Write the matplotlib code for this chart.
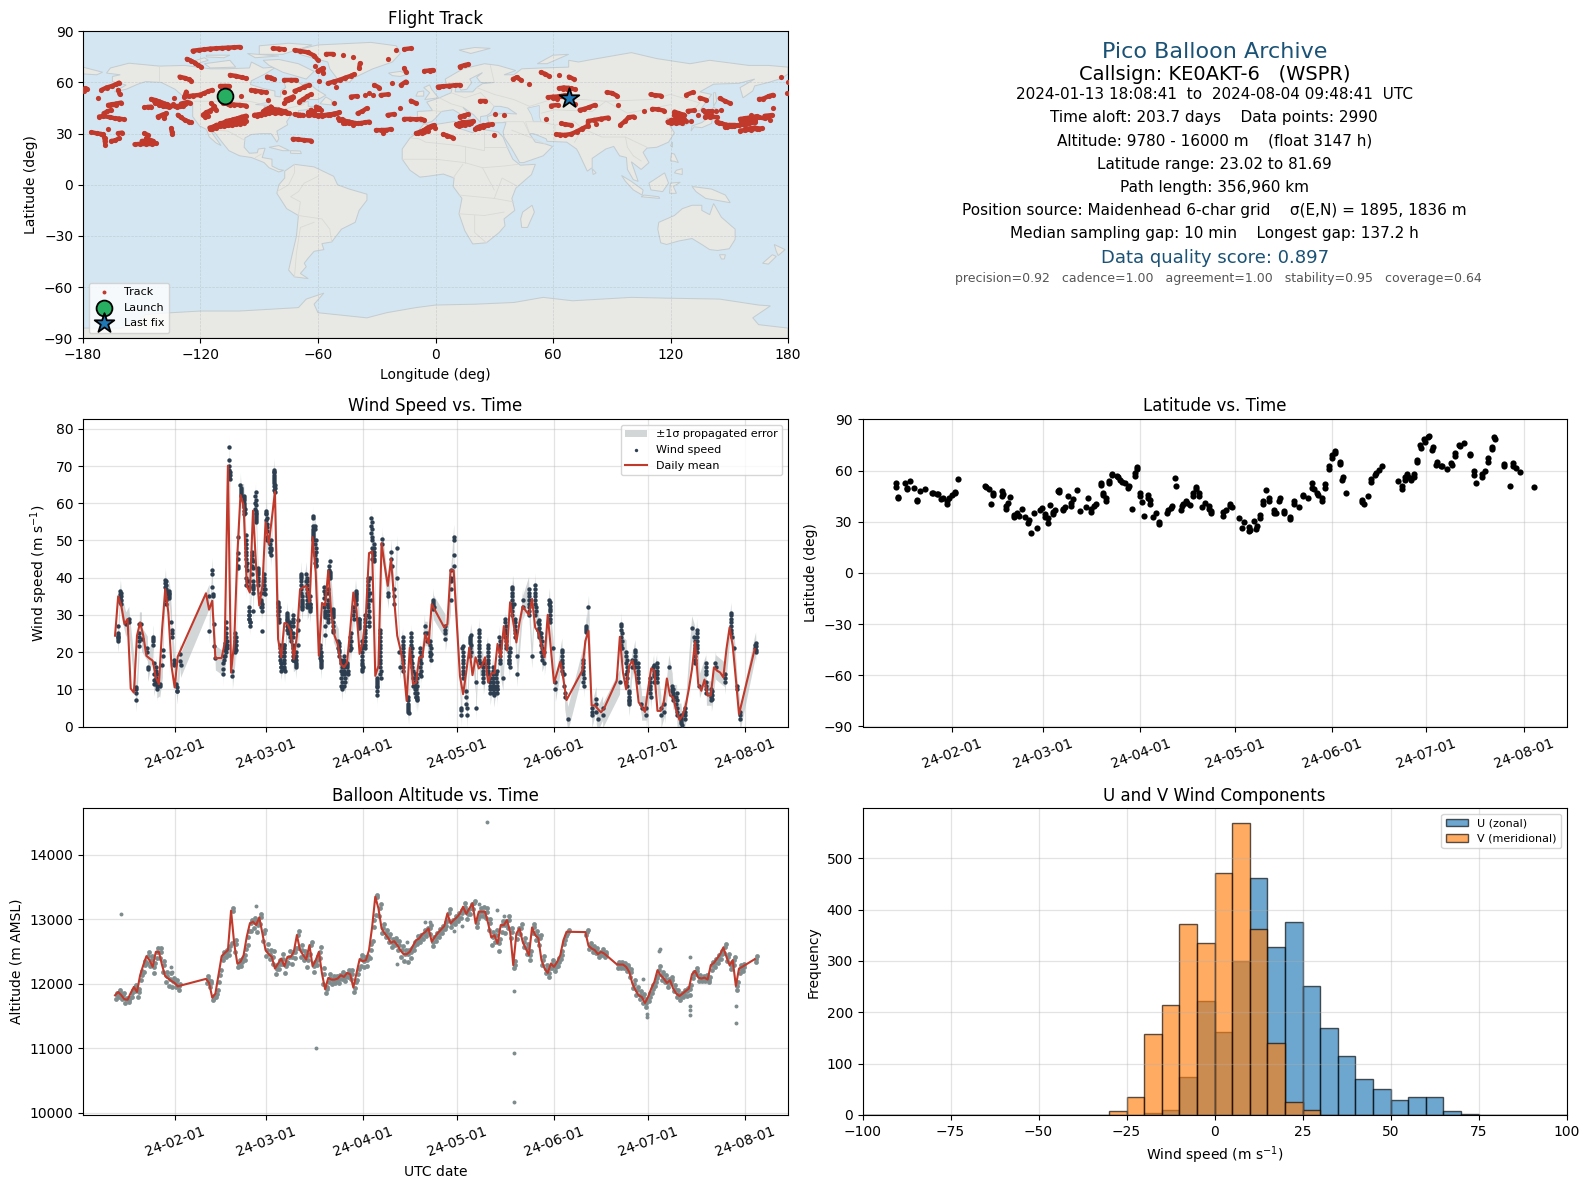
import numpy as np
import matplotlib
matplotlib.use("Agg")
import matplotlib.pyplot as plt
import matplotlib.dates as mdates

# track positions (lon, lat)
track_points = [
    (-124,78.6),(-121,79),(-118,79.4),(-115,79.8),(-112,80),(-109,80.2),(-106,80.4),(-103,80.6),(-100,80.8),
    (-127,73.8),(-125,72.8),(-123,71.6),(-121.4,70.2),(-119.7,69.2),(-130.7,63.4),(-128,62.6),(-126,61.8),(-124.8,61.1),
    (-105,64.4),(-102,63.8),(-99,63),(-96.7,62.4),(-179,56.6),(-178,56.2),(-179.5,55.2),(-170.6,55.6),(-168,57),(-165,58),(-163,59),(-161.6,59.9),
    (-162,55.6),(-161.3,53),(-172.4,50.7),(-167.2,46.8),(-165,47.2),(-163,47.6),(-160.5,48.2),(-166,46.5),(-163,46.5),
    (-169.5,41.9),(-167.5,43),(-165.6,43.9),(-171.8,40),(-169.8,40.3),(-166,39.6),(-163.9,39),(-161.5,38.8),(-159.3,38.4),
    (-175.8,30.8),(-173,30.2),(-171,29.8),(-169.8,29.6),(-169,27.3),(-168.8,25.5),(-168.6,23.4),(-167.3,32.5),(-162.2,30.2),(-160,30.6),
    (-165.6,25.7),(-163.5,26),(-161.6,27.3),(-148.6,30.2),(-146.9,29.2),(-153.7,23.7),(-151,24),(-148,24),(-145,24),(-142.6,24.3),
    (-150,25.7),(-147,25.8),(-144.3,25.7),(-147.7,27.2),(-148.6,45.4),(-147,45.6),(-145.2,45.8),
    (-145.2,50.3),(-143,49.6),(-140.9,48.8),(-138,47.5),(-135.8,46.4),(-133,46.4),(-130.7,46.4),(-128,47.2),(-125.6,48.2),(-138,46.5),(-134,47.4),(-130,47.6),(-127,48.4),
    (-141.8,40),(-139.5,41),(-137.5,41.9),(-138.7,39),(-135,33.1),(-134.6,31.2),(-134.4,29.6),
    (-131.6,41),(-130,39.5),(-128,38),(-126,37),(-124.8,36.6),(-133.3,50.7),(-127.3,54.6),(-128.2,51.7),(-126,52),(-123.9,52.3),
    (-120.5,52.7),(-118,53.8),(-116,54.8),(-114,55.6),(-110,58.1),(-107.5,58.1),(-105.2,58.1),
    (-114.6,47.8),(-113,46),(-112,43.9),(-118.8,41),(-117,42.5),(-115,43.5),(-112.9,45.2),(-117.5,39.8),(-116,40.5),
    (-108.6,47.8),(-106,47.4),(-103,47),(-100,46.8),(-96.7,46.4),(-99.3,52.3),(-105,46.6),
    (-115.4,33.5),(-113,34.2),(-111,35),(-109,35.6),(-107,36.8),(-105,37.6),(-103,38.4),(-101,39),(-99,39.8),(-96.7,40.5),
    (-112,35.1),(-109,35.2),(-106,35.8),(-103,36.2),(-100,36.8),(-96.7,37.4),(-106.9,37.4),(-104,38),(-101,38.6),(-98.4,39),
    (-94.2,55.6),(-92,55.2),(-89,54.6),(-86.5,54.2),(-85.3,49.7),(-77.5,54.2),(-86,63.4),(-84,62.8),(-82.3,61.8),
    (-77.2,61.5),(-74,61.5),(-71.2,61.5),(-72,55),(-69.5,56),(-67,57.4),(-64.4,58.5),(-77.2,47.8),(-75.5,49.5),(-74,50.5),(-72.6,51.7),(-76.5,50),
    (-69.5,48.8),(-67.5,50.2),(-65.5,51.8),(-63.6,53),(-92.5,41),(-90.5,41.2),(-88.2,41.9),(-86,43.5),(-84,45.8),(-83,44.5),(-81.5,44),(-79.7,43.9),(-77,43),(-74.6,41.9),
    (-88,43),(-85,42.8),(-82,42),(-79,42),(-72,41.4),(-69,41),(-67.8,41),(-61,45.8),(-59.5,45),(-58.5,43.9),(-63.6,43.9),(-64.4,41),(-61,40.8),(-58,40.6),(-55,41),(-52,41.5),(-49.1,42.5),
    (-49.1,38),(-47,37.6),(-44,37),(-41,36),(-38,36.2),(-36,36.6),(-33.8,37),(-47,36.5),(-44,36),(-51.7,47.8),(-39.8,41.9),(-37.5,43),(-35.2,44.8),
    (-30.4,32.1),(-28,32),(-25.5,32),(-22.8,32.7),(-27,30.6),(-24.5,40.9),(-21,41.5),(-18,44.8),(-12.6,49.3),(-10,47.8),
    (-16,38.6),(-13,38.6),(-10,38.4),(-7.5,38.6),(-5.8,38),(-10,30.2),(-8,31),(-6,32),(-4,33.5),(-2,34.5),(-0.7,35),(-7,30.5),(-4,31.8),
    (-72.9,26.9),(-70,26.6),(-67,26.2),(-63.6,25.9),(-83.1,80),(-80,79.8),(-77.2,79.4),(-72,79),(-69,78.4),(-65.3,77.7),
    (-61.9,75.7),(-60.2,73.2),(-61.5,69.9),(-60.2,66.7),(-57.6,68.3),(-57.3,65.4),(-56,76.5),(-52.5,76.5),(-47.4,76.1),(-42.3,75),
    (-38.6,71.2),(-39,68.3),(-24.5,73.8),(-16,68.3),(-15.1,66.3),(-20.2,79),(-16,79.5),(-12.6,80),(-5.8,66.7),(-3,67),(-1.5,67.3),
    (-59.3,61),(-55,59.5),(-52,60.5),(-49,61.5),(-46,62.8),(-43,64),(-41.5,64.8),(-50.8,57.5),(-31.3,58.5),(-28.7,57),(-22.3,59.5),(-17.7,58.5),(-15.1,60.5),
    (-43.2,51.7),(-40,52),(-36,52.6),(-32,52.8),(-28,52.6),(-24.5,53),(-34,54),(1.9,57.5),
    (12.4,69.3),(15,70.2),(16.7,70.6),(1.2,57.5),(4,57.8),(7,58),(10,58.4),(12.4,58.5),(22.8,49.1),(25.4,49.1),
    (12.4,40),(14.5,40.6),(16.4,41.3),(30.5,41.5),(34.8,40.9),(10.7,35.5),(13,36),(15,36.5),(17,36.8),(19.3,37.4),(12,34.5),(15,35),
    (20.2,32.7),(22,33.2),(24,34),(26,35),(28.8,35.5),(24,35.2),(-0.5,33.1),(3.8,29.6),(6,28.8),(9,27.6),(29.7,29.2),
    (39.5,62),(41.5,63),(43.5,61.5),(47.8,58.9),(53.8,66),(56,65),(57.8,63.8),(63,64.4),(68.1,63.4),(70.5,62),
    (63,56.6),(65.5,57),(68,56.8),(71,56),(57.3,51.3),(60,51.6),(63,51.8),(66.7,51.3),(59,46.4),(62.4,46.8),(71,47.2),
    (73.6,43.9),(76,44.5),(78.5,45.5),(81.4,46.8),(87.4,54.2),(90,53.8),(92.6,52.3),(93.1,46.8),(109.8,53),(112,52.5),(115,52.3),
    (128,52.7),(131.4,54.2),(134.9,51),(138.3,49.7),(145.2,50.7),(148,49),(150.4,47.8),(165,50.3),(167,50.3),(170.2,52),(172.3,52.7),
    (176.6,63),(179.9,60),(179.7,53.6),(56.4,38.4),(64.2,36),(66,35.5),(69,35),(61.6,29.6),(63.5,29.4),(65.9,29.2),
    (69.3,29.8),(72,31.2),(75,33),(78,34.7),(78,37.4),(81,38),(84.5,38.7),(88.3,39.4),(82,35.5),(94.3,35),(96.9,37.4),(98.6,39.6),(101.2,40),
    (106.7,43.3),(110.7,44.5),(113.5,44.2),(116.7,43.5),(118.5,37),(121,37.4),(124,37.2),(128,37.4),(122,42.9),(124,42),(127,41),(124,39.5),(126,39),
    (128.8,43.3),(132,43.6),(136.6,43.9),(130.5,37.4),(137.4,40),(140,40),(143.5,40),(137.4,42.9),(141,43.2),(146,43.9),
    (143.5,37),(146,36),(148.5,35.2),(151.2,34.7),(147.8,34.1),(151,34.4),(154,34.8),(157,35.4),(160,36),(163.3,36.6),
    (155.5,38.6),(158,39),(161,39.5),(164,40.2),(168,40.4),(171.9,40.9),(161,41),(163,38),(155.5,31.8),(158,32),(161,32.4),(164,32.8),(166.7,33.1),(171,38),(172.4,44.8),
]
# the thick patches of the track
track_points_dense = [
    (-143,47.8),(-141,47),(-139,46),(-136,45.5),(-132,45.5),(-129,46),(-144,49),(-137,47.5),
    (-114,33),(-112,33.5),(-110,34.2),(-108,34.5),(-106,34.8),(-104,35),(-102,35.5),(-100,35.8),(-98,36.4),(-110,36),(-108,36.5),(-106,37),(-104,36.8),(-102,37.3),(-100,38),(-98,38),(-110,35.4),(-112,34),(-115,32.8),
    (-91,40.6),(-89,41),(-87,41.5),(-85,42),(-83,42.5),(-81,43),(-80,42.5),(-78,42.4),(-76,42),(-87,44),(-85,45),(-84,44),(-82,43.8),(-80,44),(-70,41.2),(-65,41.2),(-62,41),(-60,40.5),(-57,40.8),(-54,41.2),(-50.5,42),(-65,42.4),(-62,43),(-60,44.2),
    (-47.5,38.4),(-45.5,37),(-42.5,36.4),(-39.5,36),(-46,36.2),(-42,35.3),(-50,39),
    (120,38),(122,38),(125,38),(127,38.5),(122,41),(125,41),(123,40),(126,40.5),(120,36.5),(123,36.5),(126,36.5),(134,41),(139,41),(141,40.5),(139,43.5),(143,43.5),
    (145,36.5),(149,34),(152.5,34.2),(155,35),(158,35.2),(161,36.8),(156,37.2),(159,38),(162,38.5),(165,39.5),(168,39),(170,40),(158,33),(160,33),(163,33.5),(165,33),(150,35),(153,35),
    (12,36),(14,36.8),(16,36),(18,36.4),(11,34.8),(13,35),(17,35.8),(21,33.5),(23,34.5),(25,34.5),(27,35.3),(-9,30.6),(-5,32.4),(-3,33.8),(-6,30.8),
    (60,51),(62,50.5),(64,52),(66,52.5),(65,56),(67,56),(69,56.5),
]

launch_lon, launch_lat = -107.4, 52.3
last_lon, last_lat = 68.0, 51.1

# coastlines (lon, lat), rough outlines
land_shapes = [
    [(-168,65.5),(-166,68.5),(-156.5,71.3),(-141,69.6),(-128,70),(-115,68),(-108,68),(-95,68.5),(-94,72),(-88,68.5),(-81.5,69),(-87,65),(-94,61),(-94.5,58.8),(-88,56.5),(-82,55),(-82,52),(-79,51.5),(-79,55),(-76.5,57),(-78,62.5),(-72,61.8),(-68,58.5),(-65,60),(-61,56),(-56,52.5),(-60,50),(-66,50),(-70,47),(-65,49),(-65,46),(-61,46),(-66,44),(-70,43.5),(-70,41.5),(-74,40.5),(-76,37),(-75.5,35.2),(-81,31.5),(-80,27),(-81,25),(-82.7,28),(-84,30),(-89,30),(-94,29.5),(-97.3,27.5),(-97.7,22),(-95,18.5),(-91,18.8),(-90.5,21),(-87,21.5),(-88.5,16),(-83.5,15),(-83.5,11),(-80,9),(-77.5,8.5),(-80,7.5),(-85,10),(-87.5,13),(-94,16),(-100,17),(-105.5,20),(-109,25),(-112.7,30.5),(-114.8,31.5),(-112,27),(-109.5,23),(-112,24.5),(-115.5,28),(-117,32.5),(-120.5,34.5),(-124,40),(-124,48.3),(-128,51),(-133,56),(-140,60),(-148,60.5),(-152,59),(-158,56),(-164,54.5),(-158,58.5),(-165,60.5),(-165,63.5),(-161,64.5)],
    [(-73,78.5),(-60,82),(-33,83.5),(-20,81.5),(-18,77),(-22,72),(-32,68),(-42,62.5),(-44,60),(-50,62),(-54,68),(-55,72),(-68,76)],
    [(-80,73.5),(-70,71),(-62,66.5),(-66,62),(-72,64),(-78,66),(-85,70),(-88,73)],
    [(-90,76.5),(-78,76.5),(-63,82),(-75,83),(-90,81.5)],
    [(-118,71),(-105,73),(-102,69),(-115,68.5)],
    [(-125,72),(-118,74.5),(-116,73),(-122,71)],
    [(-96,77),(-80,75.5),(-92,74.5)],
    [(-117,76),(-105,76),(-108,74.5),(-117,75)],
    [(-59,47.5),(-53,46.8),(-53,49.5),(-56,51.5)],
    [(-85,22),(-80,23),(-74.5,20),(-78,20)],
    [(-74,18.5),(-74,20),(-69,19.8),(-68.5,18.3)],
    [(-24,65.5),(-18,66.5),(-14,65),(-18,63.5),(-22,64)],
    [(-77,8),(-72,12),(-62,10.5),(-52,5),(-50,0),(-44,-2.5),(-35,-5.5),(-35,-9),(-39,-15),(-41,-22),(-48,-26),(-53,-33.5),(-58,-34.5),(-57,-38),(-62,-39),(-65,-43),(-67,-46),(-66,-48),(-69,-52),(-65,-55),(-72,-54),(-75,-50),(-73,-40),(-71,-30),(-70,-18),(-76,-14),(-81,-5),(-80,0),(-77,4)],
    [(-17,15),(-17,21),(-13,27.5),(-9.5,30.5),(-6,35.7),(-2,35),(10,37.2),(11,33.5),(19,30.5),(22,32.8),(32,31),(34.5,28),(37,21),(39.5,15),(43.3,11.5),(51,12),(49,6),(41,-2),(39,-8),(40.5,-15),(35,-20),(35.5,-24),(32.5,-28),(26,-34),(19,-34.7),(15,-27),(12,-17),(13.5,-8),(9,-1),(9.5,4),(4,6.3),(-4,5),(-8,4.5),(-13,8.5)],
    [(49.3,-12),(50.5,-16),(47,-25),(44,-25),(43.5,-20),(44.5,-16)],
    [(-9,37),(-9.3,43),(-1.5,43.5),(-4.5,48.5),(2,51),(8,54),(8.5,57),(10.5,57.5),(10,54.5),(19,54.5),(21,57),(24,59.3),(30,60),(23,60),(21,63),(24,65.8),(17.5,62),(18.5,60),(16,56),(13,55.5),(11,59),(5.5,59),(5,62),(14,68),(25,71),(32,70),(41,67),(35,64.5),(40,64.5),(44,68),(54,68.5),(68,69),(68,73),(73,72),(80,73.5),(100,77.5),(113,74),(130,71),(140,73),(160,70),(170,70),(180,69),(180,65),(177,62.5),(170,60),(163,58),(162,55),(157,51),(155.5,57),(163,62),(155,59.5),(142,59),(135,54.5),(141,53),(135,43.5),(130,42.5),(127.5,39.5),(129.3,36),(126.5,34.5),(125,39.5),(121,39),(118,39),(122,37),(119.5,35),(122,30.5),(119,25),(113,22),(108,21.5),(106,19),(109,13),(105,9),(100,13.5),(103.5,2),(101,3),(98,9),(97.5,16),(94,17),(91,22.5),(87,21),(80,15.5),(80,10),(77.5,8),(73,19),(72,21),(67,25),(57,25.5),(56.5,27),(50,30),(48,30),(51,25),(56,24),(59.8,22.5),(55,17),(45,13),(43,13),(39,21),(35,28),(34.5,31),(36,36.5),(30,36.3),(27,37),(26.5,40),(29,41),(35,42),(41.5,41.5),(37,45),(33,46),(30,46),(28,42),(26,40.5),(23,40),(23,36.5),(19.5,41),(14,45.5),(18,40),(16,38),(12,42),(9,44),(3,43),(0,39),(-2,37),(-5.5,36)],
    [(-5.5,50),(1.5,51),(-2,56),(-3,58.6),(-6,57),(-3,54)],
    [(-10,52),(-6,52),(-6,55),(-9,54.5)],
    [(12,79),(20,80.5),(28,80),(18,77)],
    [(52,71),(57,71),(68,76.5),(60,76)],
    [(142,46),(143.5,49),(143,54),(142,54)],
    [(130.5,31.5),(132,34),(136,33.5),(141,36),(141.5,41),(140,40),(136,36.5),(131,34.5)],
    [(140,42),(145.5,43),(142,45.5)],
    [(120,23),(121,25),(121,22)],
    [(120,14),(120.5,18.5),(122,18),(124,13),(122,13.8)],
    [(122,7),(126,6),(126,9.5),(123,8.5)],
    [(95,5.5),(100,2),(106,-3),(105.5,-6),(101,-3),(97,2)],
    [(105,-7),(114.5,-8),(114,-7),(106.5,-6)],
    [(109,1),(117,7),(119,1),(116,-4),(110,-3)],
    [(119.5,-5),(120,1),(125,1.5),(121.5,-1),(123,-5)],
    [(131,-1),(141,-2.5),(148,-6),(150.5,-10.5),(143,-9),(138,-8),(133,-4)],
    [(80,9.5),(82,7),(80.5,6)],
    [(114,-22),(122,-18),(126,-14),(131,-12),(136,-12),(136,-15),(140,-17.5),(142,-11),(146,-19),(153,-26),(153,-32),(150,-37.5),(144,-38.5),(140,-38),(136,-35),(131,-31.5),(124,-33),(118,-35),(115,-34),(113.5,-26)],
    [(145,-41),(148,-41),(147.5,-43.5),(146,-43.5)],
    [(173,-35),(178.5,-38),(175,-41.5),(174,-39)],
    [(172,-41),(174,-42),(170,-46.5),(167,-46)],
    [(-180,69),(-170,66),(-173,64.5),(-180,65)],
    [(-180,-84),(-180,-90),(180,-90),(180,-84),(165,-82),(162,-78),(171,-71),(165,-70.5),(145,-67),(120,-66.5),(100,-66),(85,-67),(70,-68),(55,-66),(40,-69),(20,-70),(0,-70.5),(-10,-72),(-25,-75),(-35,-78),(-60,-75),(-62,-70),(-57,-63.5),(-66,-67),(-70,-72),(-85,-73),(-100,-74),(-120,-74),(-135,-75),(-148,-76),(-152,-80),(-160,-84)],
]
lake_shapes = [
    [(47,45),(53,46.5),(53,40),(54,37),(50,37),(49,41)],
    [(-92,47),(-85,48.5),(-85,46.5)],
    [(-87.5,46),(-80,45.5),(-82,43),(-87.5,42)],
]
border_lines = [
    [(-141,69.6),(-141,60)],[(-123,49),(-95,49),(-84,46),(-82,42.5),(-75,45),(-67,47)],
    [(-117,32.5),(-106,31.5),(-97.3,26)],[(-92,16),(-89,18)],
    [(-70,-18),(-58,-20),(-54,-26),(-53,-33.5)],[(-70,-18),(-69,-10),(-74,-7),(-70,-4),(-67,1),(-60,5)],[(-72,-54),(-71,-40),(-69,-25),(-62,-22)],[(-81,-4),(-75,0),(-72,7),(-72,12)],
    [(-13,27.5),(-8.5,27),(-5,25),(12,23),(25,20),(25,31)],[(25,22),(37,22)],[(-17,15),(0,15),(15,13),(24,10),(35,11),(42,12)],[(15,13),(15,23)],[(9,4),(14,12)],[(12,-6),(30,-8),(40,-10)],[(30,-8),(34,4),(42,-1)],[(12,-17),(25,-18),(35,-16)],[(20,-18),(20,-28),(26,-34)],[(24,10),(30,-3)],
    [(-1.5,43.5),(3,43)],[(2,51),(8,47.5),(14,45.5)],[(8,54),(15,51),(23,54)],[(23,54),(30,46)],[(21,57),(30,53),(40,50),(48,46)],[(28,70),(30,60)],
    [(48,30),(46,37),(54,37),(61,35),(61,26)],[(61,35),(71,37),(75,33),(71,25)],[(54,42),(61,44),(80,43),(87,49),(98,42),(120,47)],[(48,46),(62,51),(87,49)],[(87,49),(110,50),(120,53),(135,48),(131,43)],[(75,33),(85,28),(97,28),(98,22),(101,17)],[(97,28),(108,22)],[(35,37),(45,37),(48,30)],[(39,32),(48,28),(56,24)],[(101,17),(105,14)],
]

# latitude vs time (day of 2024, lat)
lat_t = [13.06,13.1,13.8,13.85,16,16.7,16.75,17.7,18.9,19.9,19.95,20.8,22.5,24.7,25,26.2,26.5,27.6,28,29.4,29.5,30.1,31,32,32.1,33,
    41.5,41.8,42.7,43.4,44.1,44.2,47,47,47.1,48.8,49.5,48.1,48.2,50.7,50.8,51.7,53.2,52.5,54.3,55.3,55.4,56.1,58,57.1,59,59.7,60.5,60.6,61.5,61.5,62.2,63.1,63.2,63.7,64.8,65,65.2,
    66.3,66.5,67,68,68.9,69,69.6,70.8,71.7,73.6,74.3,75.3,75.4,76.2,76.9,78.3,78.4,79.1,79.2,79.9,80,80.9,81,81.8,81.9,83.5,83.7,84.5,85,86,87.1,87.2,88.2,89.2,89.3,89.9,90,
    90.8,90.9,91.4,92.1,93.3,93.4,94,94.1,95,95.9,96.9,97,99.5,99.7,100.8,101,102.1,102.3,104,104.1,104.5,105.5,105.8,106.7,107.7,107.8,108.7,108.8,109.6,109.7,110.6,111.6,112.8,112.9,113.5,113.6,
    117.2,117.3,118.2,119.4,119.6,120,122.4,123.2,124.1,125.4,125.6,126,127.2,127.9,128,129,129.2,130,130.1,131,131.9,132,133.4,133.6,134,135.1,135.3,136.7,136.8,138.5,138.7,139.9,140,141.4,142.6,142.7,144.3,145.5,145.6,146.2,147.2,147.5,148.7,148.8,149.7,149.8,
    150.9,151,151.9,152,152.8,153,154.5,154.6,155.3,155.4,156.4,161.4,161.5,162.2,163.3,164.3,164.5,165.7,165.9,166.9,167.9,173,174.2,174.3,175.2,175.3,175.9,176,177.1,177.2,178.1,178.2,178.9,179,
    180,180.2,181.2,181.5,182.5,182.9,183.9,184,185.1,185.5,186.6,187,188.5,189.8,190,191,191.2,192.4,192.8,193.9,195.8,195.9,197,197.1,197.8,199.7,199.8,200.7,201.6,201.7,202.8,202.9,203.6,203.7,206.6,206.7,208.5,209.5,209.6,210.4,211.7,216.4]
lat_v = [52.5,50.5,43.7,44.5,52.5,49,50,53.8,49.9,42.1,43,48,49.3,47,47,46.6,46.6,43.5,44,40.2,42.1,44.1,46,47,47.5,55.2,
    51.3,50.5,49,40.6,47,46,48,45.4,46.5,41.1,44.7,37.8,39,32.9,34,35.3,37.6,33.3,32.9,29.4,31,23.5,26.5,34.9,37.2,38.2,34.3,33,29.4,32.4,39.6,34.3,36,37.2,48,48.5,47.5,
    37.6,37,38.8,45,39.2,41,43.5,48.4,36.2,38.8,44.1,35.7,37.5,39.2,40.6,52.5,51.5,47,46,42.1,44,52.5,54,58.1,57.5,56.8,56,54.4,53.5,52.9,49.9,51,37.6,56.8,58.5,62.2,61,
    45,47,41.5,33.7,44.1,46,40.6,43,32.9,34.9,29,30,35.3,37,38.2,39.5,55.8,50.9,37.2,39,40.2,42.1,41,39.6,45,47,50.5,49,45.4,47,38.6,41.1,37.8,39,35.3,36.5,
    33.7,35.5,37.2,40.2,39,38.8,32.4,26.5,29.8,24.5,27,25.1,30.4,25.9,27.5,32.4,34,40.2,42,48.6,44.1,42.5,35.3,37,34.9,42.1,44,36.2,35,31.4,33,40.2,42,38.8,45,46,43.7,52.5,50,49,47,46,42.1,44,49.9,52,
    60.7,63,67.5,69,70.5,71.5,65.2,64,54.8,56.5,47,42.7,41.5,40.2,45,53.5,55,57.2,58.5,60.3,63,53.8,49,51,54.8,56,57.8,56,55.8,54.5,58.3,56.5,66.5,65,
    75.3,73,78.3,77,80,80.2,72.4,74,63.6,65,62.6,62.5,61,64.6,63.5,70.5,68.5,75.3,74.5,76.3,68.9,70,59.7,57.5,52.5,57.8,56,59.7,67.5,65,74,72.5,79.8,78.5,62.6,64,51.3,64.6,62.5,61.7,59.3,50.5]

# daily mean wind speed (day of 2024, m/s)
wind_days = list(range(12, 33)) + list(range(41, 114)) + list(range(117, 157)) + list(range(161, 169)) + list(range(172, 212)) + [216]
wind_mean = [24.4,35,32.4,27.5,28.9,10.2,9.1,24.4,28,24.4,19,18.3,17.7,13.2,11.4,26,36.9,30.7,16.3,10.5,18.8,
    35.8,31.4,33.8,18.3,18.4,18.4,22.6,70.1,14.5,22.6,
    46,62.2,59.4,37.8,36,58,43,32.5,37.8,54.9,
    49,55.8,63.1,23.5,18.6,27.8,27.5,25.7,18.1,24.4,
    36.8,37.4,37.8,33.4,50.9,41.4,19,33.2,32.5,41.9,
    29.8,24.4,22.2,16.8,15.9,17.2,26,36,31.1,19.5,
    22.6,29.8,46.6,47,13.6,16.3,49.3,43.2,37.8,45,
    34.3,24.4,20.8,16.3,6.9,21.2,11.4,11.8,18.6,18.6,
    24.8,22.2,32.9,
    26.6,27.5,42,42,
    28,13.6,8.7,14.5,21.2,13.8,18.6,15.6,16.3,18.6,
    11.8,14.3,14.3,22.2,18.6,27,20.4,33.4,28,22.6,
    28,32.3,31.1,30,34.3,26.6,25.3,21.7,18.6,30,
    20.8,11.7,14.5,17.4,12.7,7.1,
    15,23,25.7,5.6,5.7,4.7,3.8,4.9,
    12.3,24.1,14.5,10,16.3,17.7,14,6.5,5.3,
    3.9,10,15.6,15,4.2,4.2,6.5,12.9,8.3,7.8,
    4.2,1.8,2.9,5.6,10,15.4,22.8,11.4,9.6,12.6,
    8.3,8.3,15.9,15,14.5,13.2,20.8,26.6,21.7,12.7,3.3,
    20.8]
wind_sigma = 3.3

# wind speed samples, (day of 2024, speeds seen around that time)
wind_samples = [
    (12.8,[24,23,25,27]),(13.8,[36,35,34,33]),(15.4,[27.5]),(16.4,[29,28]),(18.6,[10.5,10,9,7.2]),(19.6,[21.5,23,24,25,27.5]),(20.4,[27.5,23.5]),
    (22.3,[21,20,16,15.5]),(24.2,[24,23,17,14,12.5,11.5]),(25.2,[16,14,12,10,11]),(26.2,[11.5,11]),(27.1,[16.5,19,20.5]),(28.2,[39,38,37,36,34,33]),(29.2,[36,35,34.5]),
    (30,[28,26,25,24]),(30.8,[18,17,16.5]),(31.6,[11.5,10.5,9.5,9.5]),(32.8,[19.5,17.5,16.5]),(42,[35,25.6]),(43,[42,41,37.5,35.5,35]),(43.6,[21.5,27.5]),(44,[18.5]),
    (46.5,[17,15.5,14,19,18]),(47.3,[21,20,22,23,25,28]),(48.4,[75,71.5,70,68.5,67.5,66.5]),(49.4,[15,13.5]),(50.4,[21,22,23,24,20.5]),(51.2,[46.5,45,43,42.5,51]),(52,[65,63.5,63,62.5]),
    (53.2,[61.5,61,59.5,58.5,57.5]),(53.8,[51.5,50,48,46,44,42]),(54.7,[39,37.5,32,30,29,28,27]),(55.8,[47,44.5,42.5,38,37,36,31]),(56.8,[63,61,59.5,58,57,56,55]),(57.6,[42,41,39]),
    (58.6,[36,33.5,32,31,25.7]),(59.5,[41,39,37,36]),(60.2,[58,57,55.5,53.5,51]),(61.6,[50,48,47.5,46]),(62.7,[69,68.5,67,66,65,64,63]),(64,[33.5,32,31,30]),(64.8,[21,19,17,16]),
    (65.9,[22,20,18,16,15]),(66.8,[30,29,28,27,26]),(67.7,[27,26,25,24]),(68.7,[30,28,25,20,18]),(69.6,[19,18,17,16]),(70.3,[28.5,26,22]),(71.4,[40,39,35,33,32]),(73,[41,39,38,36,33]),
    (74.1,[35,33,32,31]),(75.1,[56.5,52.5,51,50]),(75.8,[54,49,46,44,43]),(77.5,[22,20,19,18,17,16]),(78.8,[37.5,35.5,33,30,27,24.5]),(79.8,[37,33,31,29]),(80.4,[44.5,41.5,41,40]),
    (81.5,[31,30,28,26]),(83.2,[23,21,20]),(84.2,[18,16,14,12,10]),(85,[19,17,15,11]),(86,[17,16,14.5]),(87.1,[25,23,21]),(88,[32,30]),(88.7,[36.5,35.5,34]),(89.8,[29,28,27]),
    (90.8,[23,21,19,17,16]),(91.7,[30,28,25,22]),(92.7,[40,38,33,30,28]),(93.4,[40,36,34]),(93.7,[56,54,52,50,45]),(94.5,[49,47,44.5]),(95.4,[13,12,10.5,8.5]),(96.4,[26,24,22,20,18,16,14]),
    (97.2,[50.5,49]),(99.1,[35,36]),(100.1,[47,45,43]),(100.9,[37,35,33]),(101.9,[48,40]),(102.7,[20,16]),(103.8,[24,22,20,18,16]),(105.5,[8,6,5,3.7]),(106.5,[25,23,21,19]),(107,[15,13,11]),
    (108,[14,12,10,8,7]),(109.4,[21,19,17,15]),(110.7,[27,25]),(111.6,[25,23]),(112.6,[23,21,19.5]),(113.4,[34,33,31.5]),(117.2,[27,26,25,23.5]),(119,[34,37,39,42,40]),(120,[51,50,46,43]),
    (122.4,[5,4.3,3.2]),(122.9,[21.5,20,18,16,14]),(124,[9.5,8,6,5,3]),(125.3,[24,23,22,20]),(127,[12,5]),(128,[26,24,22,20,18]),(129.3,[17,15,13]),(130.9,[22,20,18,16]),(132.5,[16,14,12,11,10,9]),
    (133.8,[15,12,10]),(134.6,[24,22,20,18]),(135.7,[13]),(136.5,[29,27]),(137.6,[20,18,17]),(138.5,[37,35,33,31]),(139.4,[33,28,24]),(140.1,[19,14]),(142,[34,32]),(143.9,[37,34,32,30]),(144.9,[19]),
    (145.9,[38,36,33,30]),(147,[28,26,25,24]),(147.9,[25,22,20]),(148.9,[20,17]),(150.5,[34,33,31,29]),(151.6,[21]),(152.4,[12,10]),(154.5,[20.5,19,17,15]),(155.3,[14,11,9,8]),(156.4,[2.1]),
    (161.2,[18,15,12]),(162.2,[27,26]),(163,[32]),(164,[5,4,3]),(165.4,[7.5,6,4]),(165.9,[2]),(167.5,[5,3]),(172.9,[12]),(173.4,[27.5,26,24,22]),(175,[20,17,14,12]),(175.9,[9,7,6]),(176.9,[18,16]),
    (177.9,[20.5,19,17]),(178.7,[17,15,13]),(179.9,[6,5]),(181.4,[5,3]),(182.6,[13,11,9]),(183.7,[16,14]),(184.8,[17,15,13]),(186.1,[5,3]),(187.2,[6,4]),(188.6,[16]),(189.9,[10,9,8]),(191,[8,6,4]),
    (192.6,[2,1,0.5]),(193.6,[4,3]),(195.9,[26.5]),(196.8,[24,22,20,18]),(197.5,[26,24,21]),(198.4,[11]),(200.5,[17,15,10,9]),(202.1,[9,8,7]),(203.5,[17,16]),(206.4,[14,13,12]),(208.4,[30,29,27,25]),
    (209.5,[21]),(210.3,[11,10]),(211.2,[4,3,2]),(216.2,[22,21,20]),
]
# more samples in the dense columns
wind_samples_dense = [
    (13.6,[36.5,35.5,34.5,33.5]),(12.9,[24.5,23.5,24]),(24.1,[22,23.5]),(25,[15,13,12]),(28,[39.5,38.5,37.5,36.5,35.5,34.5]),(29.3,[36.5,35.5]),(48.3,[69,68,67]),(47.1,[19,20.5,21.5,22.5,24,26.5]),(47.6,[21,22,23]),(50.2,[20,21,22,23,24,25]),(52.1,[64,62]),(53,[62,60,59,58,57]),
    (53.7,[49,47,45,43,40,38,39]),(54.8,[31,30,29,28]),(55.7,[46,45,43,41,39,37.5]),(56.7,[62,60,58.5,57.5,56.5,55.5]),(57.5,[42.5,41.5,40,38]),(58.7,[34,33,32]),(59.6,[40,38,37,35.5]),(60.3,[57.5,56,54.5,52.5,50]),(61.5,[49,48,47]),(62.6,[68.5,67.5,66.5,65.5,64.5,63.5]),
    (64.1,[33,32,31,29,28]),(64.6,[22,21,20,19,18,17,16,15]),(65.8,[21,19,17,15.5,20,22]),(66.9,[30.5,29.5,28.5,27.5,26.5,25]),(67.8,[28,27,26,25,24,23]),(68.6,[29,27,24,22,21,19,18]),(69.5,[18.5,17.5,16.5,20]),(71.3,[41,40.5,38,37,36,34,33.5,32.5,31.5]),(73.1,[40,39,37,35,34,32]),(74,[34,33,32,31.5]),
    (75,[56,54,53,52,51.5,50.5]),(75.9,[53,50,48,47,45,44.5,43.5]),(77.4,[21,20,19.5,18.5,17.5,16.5]),(78.7,[36.5,34.5,32,31,30.5,29.5]),(79.9,[36,34,32,30,28]),(80.3,[43,42,41.5,40.5]),(81.4,[31.5,30.5,29.5,27,25.5]),(83.3,[22.5,21.5,20.5,19]),(84.1,[17,15,13,11,10.5]),(85.1,[18,16,14,13,12]),(86.1,[16.5,15,14]),(87,[24,22,20.5]),(88.1,[31,29]),(88.8,[36,35,34.5,33]),(89.7,[29,28.5,27.5,26.5]),
    (90.7,[22,20,18,16.5,15.5,15]),(91.6,[29,27,26,24,23,21]),(92.6,[39,37,36,35,34,32,31,29.5,27]),(93.8,[55,53,51,48,47]),(94.6,[48,46,45]),(95.5,[12.5,11.5,11,9.5]),(96.5,[25,23,21,19,17,15,13]),(103.7,[23,21,19,17,15]),(105.4,[7,5.5,4.5,4]),(106.4,[24,22,20,18,17,16]),(107.6,[14,13,12,11,10,9,8]),(108.3,[13,11,9,8,7.5]),(109.3,[20,18,16,14,13.5]),(112.5,[22,20,19,18]),(113.5,[33.5,32.5,32]),
    (122.8,[21,19,17,15,13]),(125.2,[23.5,22.5,21,19]),(125.5,[24.5]),(128.1,[25,23,21,19,17]),(129.4,[16,14,12]),(130.8,[21,19,17,15,14]),(131.5,[13,12,11,10,9]),(132.6,[15,13,12,11,10,9,8.5]),(133.6,[14,13,11,10,9]),(134.7,[23,21,19,17]),(136.4,[28,26,25,24,23,22,21]),(137.7,[19,18,17,16,20,21]),(138.6,[36,34,32,30,37.5]),(139.5,[29,27,26,25]),(144,[36,35,33,31]),(146,[37,35,34,32,31]),(147.1,[28.5,27.5,26.5,25.5,24.5]),(148,[24,23,21,19,18]),(150.6,[33.5,32.5,31.5,30,28]),(154.6,[20,18,16,14]),
    (161.3,[17,16,14,13,11]),(162.3,[26.5,25.5]),(173.5,[27,25,23,21]),(175.1,[19,18,16,15,13,11]),(175.8,[9.5,8,7,6.5]),(177.8,[20,18,16]),(178.8,[16,14,12]),(182.7,[12,10,8]),(183.8,[16.5,15,13.5,12]),(184.7,[16,14,12]),(189.7,[11,10,9.5,8.5,7]),(191.1,[9,7,5,3]),(192.5,[3,2.5,1.5]),(193.7,[5,4,2]),(196.9,[23,21,19,17]),(197.6,[25,23,22,20]),(200.4,[16,14,12,11]),(202.2,[10,9.5,8.5,7.5]),(208.5,[30.5,28,26,24]),(216.3,[22.5,21.5,20.5]),
]

# daily mean altitude (day of 2024, m)
alt_days = list(range(12, 33)) + list(range(41, 157)) + list(range(162, 169)) + list(range(172, 213)) + [216]
alt_mean = [11819,11870,11819,11757,11750,11855,11948,11870,12130,12285,12425,12360,12260,12490,12490,12285,12114,12078,12040,12010,11958,
    12073,12010,11782,11845,12130,12425,12476,12518,13130,12620,
    12310,12337,12440,12725,12932,12958,12906,13026,12777,12518,
    12456,12414,12233,12310,12388,12270,12414,12414,12490,12751,
    12518,12440,12373,12596,12270,12363,12492,12155,11912,12088,
    12062,12062,12078,12130,12104,12165,12145,11938,12155,12378,
    12347,12363,12518,12880,13347,13166,12855,12777,12715,12632,
    12658,12596,12518,12456,12456,12492,12585,12673,12700,12767,
    12803,12855,12648,12725,12787,12839,12891,13088,12932,12984,
    13026,13088,13191,13077,13166,13243,12932,13114,13114,13114,
    12932,12715,12751,12622,12906,12906,12984,12803,12285,12777,
    12855,12648,12544,12440,12870,12751,12700,12363,12233,12165,
    12310,12259,12337,12440,12673,12803,
    12798,12585,12544,12518,12456,12492,12466,
    12300,12295,12295,12259,12181,12000,11896,11819,11793,
    11700,11793,11922,12026,12207,12130,12078,12010,12052,11922,
    11845,11808,11845,11886,11922,12145,12197,12093,12078,12093,
    12062,12285,12321,12388,12456,12560,12414,12285,12363,11964,
    12233,12259,
    12378]
# spread of the altitude dots under and over the daily mean (m)
alt_below = [60,70,60,50,40,60,70,70,80,100,110,90,100,90,100,110,90,120,90,70,60,
    60,60,40,60,110,60,60,80,500,130,
    50,70,80,120,110,90,100,100,110,90,
    80,110,90,90,80,100,90,110,90,200,
    100,80,110,130,90,70,100,160,60,60,
    70,60,70,60,60,70,80,70,100,100,
    90,90,120,220,280,120,70,60,70,60,
    60,70,100,110,120,90,70,60,60,80,
    70,80,60,60,60,50,50,110,50,60,
    60,70,50,70,80,90,60,70,70,90,
    100,120,100,110,110,120,120,100,50,90,
    90,80,80,70,90,80,100,70,70,60,
    70,70,70,60,60,40,
    40,50,50,50,50,50,50,
    60,60,60,70,80,70,80,60,90,
    70,60,70,60,70,70,60,70,50,40,
    50,60,60,80,100,60,50,60,40,50,
    40,70,70,70,80,80,70,60,70,60,
    70,60,
    50]
alt_above = [30,30,30,20,30,40,30,50,60,70,70,70,60,60,60,60,70,90,50,40,30,
    40,30,30,50,80,60,50,60,40,50,
    50,60,90,90,60,60,60,60,60,90,
    70,90,60,60,70,60,90,70,60,70,
    80,70,70,50,70,70,70,90,40,60,
    60,60,50,50,50,50,60,90,70,70,
    60,70,90,100,30,70,70,60,60,60,
    50,60,60,70,70,60,60,60,60,70,
    60,60,70,60,60,60,60,70,60,70,
    70,60,60,70,70,40,70,60,70,60,
    70,90,80,70,70,70,60,60,60,80,
    70,60,70,60,50,60,60,70,60,70,
    60,60,60,60,60,30,
    30,40,40,40,40,40,30,
    40,40,30,30,50,50,50,60,50,
    60,60,50,60,60,50,50,60,50,60,
    50,50,50,50,50,40,50,40,40,40,
    40,50,60,60,50,50,50,50,50,60,
    50,50,
    50]
alt_extra_t = [13.8,76,130.7,139.4,139.4,139.4,195.5,195.5,195.5,195.5,210.1,210.1,181.6,181.6,185.6,185.7,56.8,180.4,30,30.2,102,122.8,120,133.7,112.4,105,111,128,136]
alt_extra_v = [13072,11005,14502,11890,10928,10166,11648,11596,11518,12414,11658,11394,11482,11534,12508,12540,13207,12078,12259,12180,12300,12891,12818,13140,12948,12640,12950,13240,13050]

# histogram counts, one per 5 m/s bin from -100 to 100
hist_edges = np.arange(-100, 105, 5)
u_counts = [0]*16 + [3,9,74,222,161,300,461,327,376,251,169,115,70,50,29,35,35,7,1] + [0]*5
v_counts = [0]*14 + [7,35,157,214,372,335,471,568,362,140,26,10] + [0]*14

info_lines = [
    ("Pico Balloon Archive", 51.5, 1215, 16, "#1a5276"),
    ("Callsign: KE0AKT-6   (WSPR)", 74.0, 1215, 14, "black"),
    ("2024-01-13 18:08:41  to  2024-08-04 09:48:41  UTC", 94.3, 1215, 11, "black"),
    ("Time aloft: 203.7 days    Data points: 2990", 117.7, 1214, 11, "black"),
    ("Altitude: 9780 - 16000 m    (float 3147 h)", 140.7, 1215, 11, "black"),
    ("Latitude range: 23.02 to 81.69", 164.0, 1214, 11, "black"),
    ("Path length: 356,960 km", 187.5, 1215, 11, "black"),
    ("Position source: Maidenhead 6-char grid    σ(E,N) = 1895, 1836 m", 210.0, 1214, 11, "black"),
    ("Median sampling gap: 10 min    Longest gap: 137.2 h", 233.5, 1214, 11, "black"),
    ("Data quality score: 0.897", 257.7, 1215, 13, "#1a5276"),
    ("precision=0.92   cadence=1.00   agreement=1.00   stability=0.95   coverage=0.64", 278.3, 1218, 9, "#555555"),
]

W, H = 1590, 1189
RED = "#c0392b"
NAVY = "#2c3e50"
GREY = "#7f8c8d"
day0 = mdates.date2num(np.datetime64("2024-01-01"))


def panel(x0, x1, y0, y1):
    return fig.add_axes([x0 / W, 1 - y1 / H, (x1 - x0) / W, (y1 - y0) / H])


def date_axis(ax, left, right):
    ax.set_xlim(day0 + left, day0 + right)
    ax.xaxis.set_major_locator(mdates.MonthLocator())
    ax.xaxis.set_major_formatter(mdates.DateFormatter("%y-%m-%d"))
    ax.tick_params(axis="x", labelrotation=20)
    ax.grid(True, color="#b0b0b0", alpha=0.35, lw=0.9)


fig = plt.figure(figsize=(W / 100, H / 100), dpi=100)

# map
ax = panel(83, 788, 31.3, 338.3)
ax.set_facecolor("#d4e6f1")
for shape in land_shapes:
    ax.fill(*zip(*shape), facecolor="#e8e8e4", edgecolor="#c3ccd0", lw=0.7, zorder=1)
for shape in lake_shapes:
    ax.fill(*zip(*shape), facecolor="#d4e6f1", edgecolor="#c3ccd0", lw=0.5, zorder=1.1)
for line in border_lines:
    ax.plot(*zip(*line), color="#d9dad6", lw=0.6, zorder=1.2)
all_track = track_points + track_points_dense
# neighbouring fixes run together into streaks
for (lon0, lat0), (lon1, lat1) in zip(all_track[:-1], all_track[1:]):
    if abs(lon1 - lon0) < 4 and abs(lat1 - lat0) < 3:
        ax.plot([lon0, lon1], [lat0, lat1], color=RED, lw=3.2, solid_capstyle="round", zorder=3)
track_lon, track_lat = zip(*all_track)
ax.scatter(track_lon, track_lat, s=14, color=RED, lw=0, zorder=3)
ax.scatter([], [], s=8, color=RED, lw=0, label="Track")
ax.scatter([launch_lon], [launch_lat], s=130, color="#27ae60", edgecolor="black", lw=1.3, zorder=4, label="Launch")
ax.scatter([last_lon], [last_lat], s=220, marker="*", color="#1f77b4", edgecolor="black", lw=1.3, zorder=5, label="Last fix")
ax.set_xlim(-180, 180)
ax.set_ylim(-90, 90)
ax.set_xticks(np.arange(-180, 181, 60))
ax.set_yticks(np.arange(-90, 91, 30))
ax.grid(True, color="#9aa5ab", alpha=0.35, lw=0.5, ls="--", zorder=2)
ax.set_xlabel("Longitude (deg)")
ax.set_ylabel("Latitude (deg)")
ax.set_title("Flight Track", fontsize=12, pad=5)
ax.legend(loc="lower left", fontsize=8)

# text block
for text, y, x, size, color in info_lines:
    fig.text(x / W, 1 - y / H, text, ha="center", va="center", fontsize=size, color=color)

# wind speed
ax = panel(83, 788, 419.5, 726.5)
wind_t, wind_v = [], []
for day, speeds in sorted(wind_samples + wind_samples_dense, key=lambda row: row[0]):
    for i, v in enumerate(speeds):
        wind_t.append(day + 0.04 * i)
        wind_v.append(v)
wind_t = np.array(wind_t)
wind_v = np.array(wind_v)
ax.fill_between(day0 + wind_t, wind_v - wind_sigma, wind_v + wind_sigma, color=GREY, alpha=0.35, lw=0, label="±1σ propagated error")
ax.scatter(day0 + wind_t, wind_v, s=10, color=NAVY, lw=0, zorder=3)
ax.scatter([], [], s=6, color=NAVY, lw=0, label="Wind speed")
ax.plot(day0 + np.array(wind_days), wind_mean, color=RED, lw=1.5, zorder=4, label="Daily mean")
date_axis(ax, 1.78, 226.63)
ax.set_ylim(0, 82.5)
ax.set_yticks(np.arange(0, 81, 10))
ax.set_ylabel("Wind speed (m s$^{-1}$)")
ax.set_title("Wind Speed vs. Time", fontsize=12, pad=6)
ax.legend(loc="upper right", fontsize=8)

# latitude
ax = panel(862.6, 1566.5, 419.5, 726.5)
ax.scatter(day0 + np.array(lat_t), lat_v, s=20, color="black", lw=0, zorder=3)
date_axis(ax, 2.57, 226.59)
ax.set_ylim(-90, 90)
ax.set_yticks(np.arange(-90, 91, 30))
ax.set_ylabel("Latitude (deg)")
ax.set_title("Latitude vs. Time", fontsize=12, pad=6)

# altitude
ax = panel(83, 788, 808.3, 1115)
days = np.array(alt_days)
means = np.array(alt_mean)
ax.scatter(day0 + days + 0.3, means - np.array(alt_below), s=12, color=GREY, lw=0, zorder=3)
ax.scatter(day0 + days + 0.5, means, s=12, color=GREY, lw=0, zorder=3)
ax.scatter(day0 + days + 0.7, means + np.array(alt_above), s=12, color=GREY, lw=0, zorder=3)
ax.scatter(day0 + np.array(alt_extra_t), alt_extra_v, s=8, color=GREY, lw=0, zorder=3)
ax.plot(day0 + days, means, color=RED, lw=1.5, zorder=4)
date_axis(ax, 1.78, 226.63)
ax.set_ylim(9964, 14716)
ax.set_yticks(np.arange(10000, 14001, 1000))
ax.set_xlabel("UTC date")
ax.set_ylabel("Altitude (m AMSL)")
ax.set_title("Balloon Altitude vs. Time", fontsize=12, pad=5)

# wind components
ax = panel(862.6, 1566.5, 808.3, 1115)
ax.hist(hist_edges[:-1], bins=hist_edges, weights=u_counts, alpha=0.65, edgecolor="black", color="tab:blue", label="U (zonal)")
ax.hist(hist_edges[:-1], bins=hist_edges, weights=v_counts, alpha=0.65, edgecolor="black", color="tab:orange", label="V (meridional)")
ax.set_xlim(-100, 100)
ax.set_ylim(0, 597)
ax.set_xticks(np.arange(-100, 101, 25))
ax.grid(True, color="#b0b0b0", alpha=0.35, lw=0.9)
ax.set_xlabel("Wind speed (m s$^{-1}$)")
ax.set_ylabel("Frequency")
ax.set_title("U and V Wind Components", fontsize=12, pad=5)
ax.legend(loc="upper right", fontsize=8)

fig.savefig("out.png", dpi=100)
